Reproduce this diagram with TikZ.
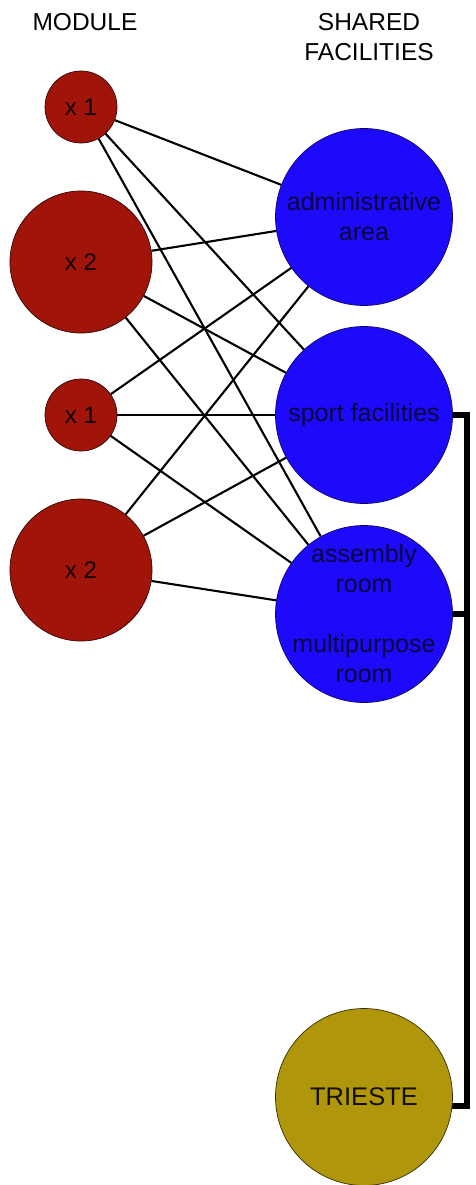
\documentclass[tikz,border=0pt]{standalone}
\usepackage{fontspec}
\setmainfont{Liberation Sans}
\usetikzlibrary{backgrounds}
\definecolor{modred}{RGB}{160,20,10}
\definecolor{facblue}{RGB}{30,10,250}
\definecolor{tsgold}{RGB}{176,150,10}
\definecolor{navytext}{RGB}{10,5,60}
\begin{document}
\begin{tikzpicture}[x=1pt,y=-1pt,
  module/.style={circle, fill=modred, draw=black!70!modred, line width=0.7pt,
    inner sep=0pt, text=black!90!modred, font=\fontsize{24}{29}\selectfont},
  fac/.style={circle, fill=facblue, draw=black!60!facblue, line width=0.7pt,
    inner sep=-20pt, minimum size=177pt, align=center, text=navytext,
    font=\fontsize{25}{30}\selectfont},
  city/.style={circle, fill=tsgold, draw=black!70!tsgold, line width=0.7pt,
    inner sep=0pt, minimum size=177pt, text=black!90!tsgold,
    font=\fontsize{25.5}{30}\selectfont},
  heading/.style={anchor=base, inner sep=0pt, text=black,
    font=\fontsize{24.5}{29}\selectfont},
  link/.style={line width=2.1pt, black},
  bus/.style={line width=6.5pt, black, line join=miter}]
\useasboundingbox (0,0) rectangle (475,1185);

% headings
\node[heading] (hmod) at (85,31) {MODULE};
\node[heading] (hsh) at (369,31) {SHARED};
\node[heading] (hfac) at (369,61) {FACILITIES};

% module circles
\node[module, minimum size=72pt]  (r1) at (81,107) {x 1};
\node[module, minimum size=142pt] (r2) at (81,262) {x 2};
\node[module, minimum size=72pt]  (r3) at (81,415) {x 1};
\node[module, minimum size=142pt] (r4) at (81,570) {x 2};

% shared facilities
\node[fac] (b1) at (364,217) {administrative\\area};
\node[fac] (b2) at (364,415) {sport facilities};
\node[fac] (b3) at (364,614) {assembly\\room\\[30pt]multipurpose\\room};

% city
\node[city] (t) at (364,1097) {TRIESTE};

% bus coordinates
\coordinate (j1) at (467,415);
\coordinate (j3) at (467,1106);

\begin{scope}[on background layer]
  \foreach \r in {r1,r2,r3,r4}{
    \foreach \b in {b1,b2,b3}{
      \draw[link] (\r) -- (\b);
    }
  }
  \draw[bus] (b2.center) -- (j1) -- (j3) -- (t.center |- j3);
  \draw[bus] (b3.center) -- (b3.center -| j1);
\end{scope}
\end{tikzpicture}
\end{document}
